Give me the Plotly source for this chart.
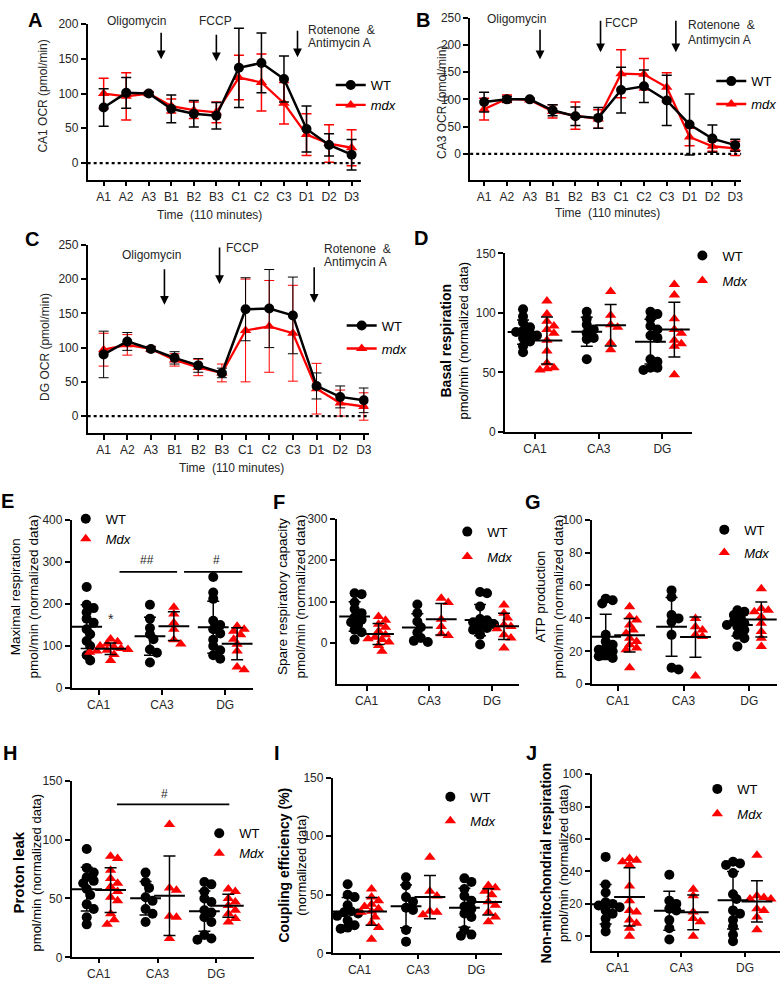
import numpy as np
import plotly.graph_objects as go

W, H = 784, 986
FONT = "Arial, 'Liberation Sans', Helvetica, sans-serif"
BLACK = "#000000"
RED = "#ff0000"
TXT = "#262626"

# ---------------- time course data (panels A-C) ----------------
time_labels = ["A1", "A2", "A3", "B1", "B2", "B3", "C1", "C2", "C3", "D1", "D2", "D3"]

ca1_wt = [80, 101, 100, 78, 71, 68, 137, 144, 121, 49, 26, 12]
ca1_wt_sd = [27, 22, 2, 20, 19, 19, 57, 43, 33, 33, 16, 22]
ca1_mdx = [100, 96, 100, 82, 76, 73, 123, 116, 86, 41, 28, 22]
ca1_mdx_sd = [22, 34, 3, 10, 12, 15, 32, 41, 30, 30, 27, 26]

ca3_wt = [95, 100, 100, 80, 69, 66, 117, 124, 98, 54, 28, 16]
ca3_wt_sd = [18, 5, 2, 10, 17, 19, 42, 30, 46, 56, 25, 11]
ca3_mdx = [82, 101, 99, 78, 70, 64, 147, 146, 122, 31, 14, 10]
ca3_mdx_sd = [20, 7, 2, 12, 25, 17, 44, 29, 27, 16, 9, 13]

dg_wt = [90, 109, 98, 85, 74, 63, 156, 157, 147, 44, 28, 23]
dg_wt_sd = [34, 13, 3, 9, 10, 7, 46, 57, 56, 19, 16, 18]
dg_mdx = [97, 104, 98, 82, 71, 63, 125, 131, 121, 40, 19, 14]
dg_mdx_sd = [24, 15, 4, 9, 12, 13, 75, 67, 70, 37, 19, 20]

# ---------------- scatter data (panels D-J), groups CA1, CA3, DG ----------------
regions = ["CA1", "CA3", "DG"]

basal_wt = [[103, 97, 92, 88, 85, 84, 83, 81, 79, 76, 72, 67],
            [101, 95, 90, 86, 83, 79, 78, 61],
            [101, 99, 95, 89, 86, 81, 79, 61, 59, 54, 54, 52]]
basal_mdx = [[110, 99, 93, 89, 86, 83, 77, 68, 58, 54, 53, 52],
             [118, 98, 90, 88, 75, 69],
             [124, 115, 95, 86, 83, 77, 74, 72, 48]]

max_wt = [[240, 198, 190, 180, 165, 155, 140, 128, 112, 100, 78, 66],
          [198, 165, 143, 128, 116, 92, 84, 61],
          [264, 227, 212, 160, 150, 140, 130, 115, 100, 90, 78, 70]]
max_mdx = [[117, 110, 105, 100, 97, 94, 92, 90, 88, 85, 80, 66],
           [192, 176, 155, 140, 115, 105],
           [147, 140, 135, 127, 116, 104, 88, 50, 44]]

spare_wt = [[120, 118, 98, 82, 72, 62, 56, 50, 44, 32, 26, 8],
            [93, 72, 52, 38, 25, 12, 5, 2],
            [123, 120, 88, 58, 55, 50, 45, 40, 36, 32, 20, -4]]
spare_mdx = [[64, 55, 45, 38, 28, 20, 14, 10, 8, 2, -6, -20],
             [108, 98, 57, 40, 22, 18],
             [92, 72, 60, 44, 40, 34, 20, 12, -12]]

atp_wt = [[52, 51, 49, 30, 26, 24, 22, 21, 20, 18, 17, 16],
          [57, 53, 42, 40, 38, 30, 10, 9],
          [45, 44, 42, 40, 38, 37, 36, 35, 33, 30, 28, 23]]
atp_mdx = [[47, 41, 39, 36, 33, 31, 28, 26, 24, 22, 21, 10],
           [40, 35, 33, 30, 29, 5],
           [58, 46, 45, 44, 41, 37, 32, 28, 23]]

leak_wt = [[92, 76, 72, 68, 65, 63, 58, 53, 45, 41, 34, 28],
           [72, 64, 59, 51, 48, 41, 37, 30],
           [64, 62, 56, 50, 47, 40, 38, 34, 30, 19, 16, 15]]
leak_mdx = [[86, 84, 74, 67, 63, 60, 56, 51, 48, 37, 32, 28],
            [113, 59, 57, 35, 34, 16],
            [58, 56, 50, 47, 44, 40, 37, 33, 30]]

coup_wt = [[59, 50, 48, 41, 36, 35, 34, 32, 28, 24, 22, 21],
           [65, 58, 48, 44, 39, 37, 20, 10],
           [64, 61, 55, 49, 45, 40, 38, 34, 31, 20, 16, 15]]
coup_mdx = [[55, 48, 45, 42, 40, 38, 36, 35, 31, 26, 22, 12],
            [82, 53, 49, 36, 35, 33],
            [58, 56, 53, 50, 44, 41, 35, 31, 27]]

nonmito_wt = [[49, 32, 27, 21, 20, 19, 18, 16, 14, 11, 7, 3],
              [38, 22, 20, 17, 16, 10, 5, -2],
              [46, 45, 44, 39, 26, 23, 16, 14, 10, 6, 1, -3]]
nonmito_mdx = [[48, 47, 46, 44, 31, 22, 16, 15, 10, 8, 5, 0],
               [29, 25, 15, 11, 9, 0],
               [50, 25, 24, 23, 23, 17, 16, 12, 4]]

# ---------------- helpers ----------------
fig = go.Figure()
layout = {}
annotations = []
shapes = []


def X(px):
    return px / W


def Y(py):
    return 1 - py / H


axis_common = dict(showline=True, linecolor=BLACK, linewidth=1.7, ticks="outside",
                   ticklen=5, tickwidth=1.5, tickcolor=BLACK, showgrid=False,
                   zeroline=False, fixedrange=True,
                   tickfont=dict(family=FONT, size=12, color=TXT))


def key(n, kind):
    return kind if n == 1 else f"{kind}{n}"


def add_axes(n, xpx, ypx, xr, yr, xtv, xtt, ytv):
    layout[key(n, "xaxis")] = dict(axis_common, domain=[X(xpx[0]), X(xpx[1])], range=xr,
                                   anchor=key(n, "y"), tickvals=xtv, ticktext=xtt)
    layout[key(n, "yaxis")] = dict(axis_common, domain=[Y(ypx[1]), Y(ypx[0])], range=yr,
                                   anchor=key(n, "x"), tickvals=ytv)
    xppu = (xpx[1] - xpx[0]) / (xr[1] - xr[0])
    yppu = (ypx[1] - ypx[0]) / (yr[1] - yr[0])
    return xppu, yppu


def add_legend(n, xpx, ytop, gap, size=13):
    layout[key(n, "legend")] = dict(x=X(xpx), y=Y(ytop), xanchor="left", yanchor="top",
                                    bgcolor="rgba(0,0,0,0)", borderwidth=0,
                                    font=dict(family=FONT, size=size, color=BLACK),
                                    itemwidth=30, tracegroupgap=gap, traceorder="grouped")


def ann(text, xpx, ypx, size=12, color=TXT, angle=0, xanchor="center", yanchor="middle"):
    annotations.append(dict(text=text, x=X(xpx), y=Y(ypx), xref="paper", yref="paper",
                            showarrow=False, textangle=angle, xanchor=xanchor,
                            yanchor=yanchor, font=dict(family=FONT, size=size, color=color)))


def arrow(n, xval, ytop, ybot):
    annotations.append(dict(text="", x=xval, y=Y(ybot), xref=key(n, "x"), yref="paper",
                            ax=0, ay=-(ybot - ytop), axref="pixel", ayref="pixel",
                            showarrow=True, arrowhead=2, arrowsize=1.1, arrowwidth=1.6,
                            arrowcolor=BLACK, standoff=0))


def swarm(vals, yppu, d=6.0, step=3.5):
    ys = np.asarray(vals, float) * yppu
    order = np.argsort(-ys)
    placed = []
    out = np.zeros(len(ys))
    cands = [0.0]
    for j in range(1, 30):
        cands += [j * step, -j * step]
    for i in order:
        chosen = cands[-1]
        for c in cands:
            if all((c - px) ** 2 + (ys[i] - py) ** 2 >= d ** 2 for px, py in placed):
                chosen = c
                break
        placed.append((chosen, ys[i]))
        out[i] = chosen
    return out


def line_panel(n, wt, wt_sd, mdx, mdx_sd, lw=1.5):
    xs = list(range(1, len(time_labels) + 1))
    xa, ya = key(n, "x"), key(n, "y")
    leg = key(n, "legend")
    fig.add_trace(go.Scatter(
        x=xs, y=mdx, mode="lines+markers", name="<i>mdx</i>", xaxis=xa, yaxis=ya,
        legend=leg, legendgroup=f"m{n}", legendrank=2,
        line=dict(color=RED, width=2.3),
        marker=dict(symbol="triangle-up", size=10, color=RED),
        error_y=dict(type="data", array=mdx_sd, color=RED, thickness=lw, width=5)))
    fig.add_trace(go.Scatter(
        x=xs, y=wt, mode="lines+markers", name="WT", xaxis=xa, yaxis=ya,
        legend=leg, legendgroup=f"w{n}", legendrank=1,
        line=dict(color=BLACK, width=2.5),
        marker=dict(symbol="circle", size=10, color=BLACK),
        error_y=dict(type="data", array=wt_sd, color=BLACK, thickness=lw, width=5)))
    shapes.append(dict(type="line", xref=f"{xa} domain", yref=ya, x0=0, x1=1, y0=0, y1=0,
                       line=dict(color=BLACK, width=2.2, dash="dot")))


def dot_panel(n, wt_groups, mdx_groups, xppu, yppu, off_px=12):
    xa, ya = key(n, "x"), key(n, "y")
    leg = key(n, "legend")
    off = off_px / xppu
    centers = np.arange(1, len(regions) + 1)
    for groups, col, sym, name, sign, rank in ((wt_groups, BLACK, "circle", "WT", -1, 1),
                                               (mdx_groups, RED, "triangle-up", "<i>Mdx</i>", 1, 2)):
        xs, ys = [], []
        for gi, vals in enumerate(groups):
            o = swarm(vals, yppu) / xppu
            xs += list(centers[gi] + sign * off + o)
            ys += list(vals)
        fig.add_trace(go.Scatter(
            x=xs, y=ys, mode="markers", name=name, xaxis=xa, yaxis=ya, legend=leg,
            legendgroup=f"{name}{n}", legendrank=rank,
            marker=dict(symbol=sym, size=10, color=col, line=dict(width=0))))
    for groups, sign in ((wt_groups, -1), (mdx_groups, 1)):
        means = [float(np.mean(v)) for v in groups]
        sds = [float(np.std(v, ddof=1)) for v in groups]
        fig.add_trace(go.Scatter(
            x=list(centers + sign * off), y=means, mode="markers", showlegend=False,
            xaxis=xa, yaxis=ya,
            marker=dict(symbol="line-ew", size=22, color=BLACK,
                        line=dict(color=BLACK, width=2)),
            error_y=dict(type="data", array=sds, color=BLACK, thickness=1.5, width=6)))


tick_t = list(range(1, len(time_labels) + 1))
cat_v = [1, 2, 3]

# ---------------- Panel A ----------------
add_axes(1, (88, 362), (17.3, 175), [0.29, 12.4], [-23.7, 200], tick_t, time_labels,
         [0, 50, 100, 150, 200])
line_panel(1, ca1_wt, ca1_wt_sd, ca1_mdx, ca1_mdx_sd)
add_legend(1, 332, 64, 0)
arrow(1, 3.55, 25, 53)
arrow(1, 6.0, 27, 55)
arrow(1, 9.6, 23, 51)
ann("Oligomycin", 137, 14)
ann("FCCP", 216, 14)
ann("Rotenone  &", 307, 23, xanchor="left")
ann("Antimycin A", 307, 37, xanchor="left")
ann("Time  (110 minutes)", 210, 211)
ann("CA1 OCR (pmol/min)", 43, 90, angle=-90)
ann("<b>A</b>", 35, 13, size=20, color=BLACK)

# ---------------- Panel B ----------------
add_axes(2, (472, 744), (10.7, 175), [0.39, 12.26], [-47, 250], tick_t, time_labels,
         [0, 50, 100, 150, 200, 250])
line_panel(2, ca3_wt, ca3_wt_sd, ca3_mdx, ca3_mdx_sd)
add_legend(2, 714, 60, 3)
arrow(2, 3.45, 22, 53)
arrow(2, 6.1, 13, 46)
arrow(2, 9.4, 13, 46)
ann("Oligomycin", 518, 12)
ann("FCCP", 624, 16)
ann("Rotenone  &", 689, 18, xanchor="left")
ann("Antimycin A", 689, 33, xanchor="left")
ann("Time  (110 minutes)", 610, 209)
ann("CA3 OCR (pmol/min)", 443, 97, angle=-90)
ann("<b>B</b>", 425, 13, size=20, color=BLACK)

# ---------------- Panel C ----------------
add_axes(3, (88, 370), (241.3, 432), [0.325, 12.2], [-24.5, 250], tick_t, time_labels,
         [0, 50, 100, 150, 200, 250])
line_panel(3, dg_wt, dg_wt_sd, dg_mdx, dg_mdx_sd, lw=1.0)
add_legend(3, 343, 308, 3)
arrow(3, 3.57, 265, 302)
arrow(3, 5.9, 243, 281)
arrow(3, 9.9, 263, 300)
ann("Oligomycin", 152, 252)
ann("FCCP", 243, 244)
ann("Rotenone  &", 323, 245, xanchor="left")
ann("Antimycin A", 323, 259, xanchor="left")
ann("Time  (110 minutes)", 232, 468)
ann("DG OCR (pmol/min)", 45, 345, angle=-90)
ann("<b>C</b>", 32, 235, size=20, color=BLACK)

# ---------------- Panel D ----------------
xp, yp = add_axes(4, (507, 695), (250, 431), [0.53, 3.47], [0, 150], cat_v, regions,
                  [0, 50, 100, 150])
dot_panel(4, basal_wt, basal_mdx, xp, yp)
add_legend(4, 685, 237, 5)
ann("<b><span style='font-size:14px'>Basal respiration</span></b><br>pmol/min (normalized data)",
    456, 338, size=13, color=BLACK, angle=-90)
ann("<b>D</b>", 423, 234, size=20, color=BLACK)

# ---------------- Panel E ----------------
xp, yp = add_axes(5, (72, 254), (520, 691), [0.575, 3.44], [0, 400], cat_v, regions,
                  [0, 100, 200, 300, 400])
dot_panel(5, max_wt, max_mdx, xp, yp)
add_legend(5, 66, 504, 0)
ann("Maximal respiration<br>pmol/min (normalized data)", 25, 598, size=13.5, color=BLACK, angle=-90)
ann("<b>E</b>", 8, 501, size=20, color=BLACK)
annotations.append(dict(text="*", x=1.19, y=165, xref="x5", yref="y5", showarrow=False,
                        font=dict(family=FONT, size=14, color=TXT)))
annotations.append(dict(text="##", x=1.76, y=303, xref="x5", yref="y5", showarrow=False,
                        font=dict(family=FONT, size=12, color=TXT)))
annotations.append(dict(text="#", x=2.87, y=303, xref="x5", yref="y5", showarrow=False,
                        font=dict(family=FONT, size=12, color=TXT)))
shapes.append(dict(type="line", xref="x5", yref="y5", x0=1.33, x1=2.24, y0=276, y1=276,
                   line=dict(color=BLACK, width=1.8)))
shapes.append(dict(type="line", xref="x5", yref="y5", x0=2.35, x1=3.27, y0=276, y1=276,
                   line=dict(color=BLACK, width=1.8)))

# ---------------- Panel F ----------------
xp, yp = add_axes(6, (338, 521), (519.3, 687), [0.524, 3.43], [-100, 300], cat_v, regions,
                  [0, 100, 200, 300])
dot_panel(6, spare_wt, spare_mdx, xp, yp)
add_legend(6, 449, 517, 5)
ann("Spare respiratory capacity<br>pmol/min (normalized data)", 293, 598, size=13.5, color=BLACK, angle=-90)
ann("<b>F</b>", 280, 502, size=20, color=BLACK)

# ---------------- Panel G ----------------
xp, yp = add_axes(7, (594, 780), (520, 687), [0.606, 3.42], [0, 100], cat_v, regions,
                  [0, 20, 40, 60, 80, 100])
dot_panel(7, atp_wt, atp_mdx, xp, yp)
add_legend(7, 707, 515, 3)
ann("ATP production<br>pmol/min (normalized data)", 552, 598, size=13.5, color=BLACK, angle=-90)
ann("<b>G</b>", 535, 502, size=20, color=BLACK)

# ---------------- Panel H ----------------
xp, yp = add_axes(8, (72, 255), (785, 964), [0.542, 3.64], [0, 150], cat_v, regions,
                  [0, 50, 100, 150])
dot_panel(8, leak_wt, leak_mdx, xp, yp)
add_legend(8, 200, 823, 0)
ann("<b><span style='font-size:15px'>Proton leak</span></b><br>pmol/min (normalized data)",
    27, 878, size=13, color=BLACK, angle=-90)
ann("<b>H</b>", 10, 757, size=20, color=BLACK)
annotations.append(dict(text="#", x=2.12, y=139, xref="x8", yref="y8", showarrow=False,
                        font=dict(family=FONT, size=12, color=TXT)))
shapes.append(dict(type="line", xref="x8", yref="y8", x0=1.31, x1=3.22, y0=130, y1=130,
                   line=dict(color=BLACK, width=1.8)))

# ---------------- Panel I ----------------
xp, yp = add_axes(9, (334, 504), (781.7, 960), [0.54, 3.44], [0, 150], cat_v, regions,
                  [0, 50, 100, 150])
dot_panel(9, coup_wt, coup_mdx, xp, yp)
add_legend(9, 432, 786, 4)
ann("<b><span style='font-size:14px'>Coupling efficiency (%)</span></b><br>(normalized data)",
    294, 870, size=13, color=BLACK, angle=-90)
ann("<b>I</b>", 278, 757, size=20, color=BLACK)

# ---------------- Panel J ----------------
xp, yp = add_axes(10, (594, 783), (778.3, 958), [0.594, 3.55], [-9.3, 100], cat_v, regions,
                  [0, 20, 40, 60, 80, 100])
dot_panel(10, nonmito_wt, nonmito_mdx, xp, yp)
add_legend(10, 700, 778, 5)
ann("<b><span style='font-size:14px'>Non-mitochondrial respiration</span></b><br>pmol/min (normalized data)",
    557, 868, size=13, color=BLACK, angle=-90)
ann("<b>J</b>", 534, 757, size=20, color=BLACK)

# bottom row: slightly shorter ticks so labels fit the page
for n in (8, 9, 10):
    layout[key(n, "xaxis")]["ticklen"] = 4

fig.update_layout(**layout)
fig.update_layout(width=W, height=H, margin=dict(l=0, r=0, t=0, b=0),
                  paper_bgcolor="white", plot_bgcolor="white",
                  font=dict(family=FONT, size=12, color=TXT),
                  annotations=annotations, shapes=shapes, showlegend=True)
fig.write_html("out.html", config={"displayModeBar": False, "staticPlot": False},
               post_script="document.body.style.margin='0px';document.body.style.overflow='hidden';")
